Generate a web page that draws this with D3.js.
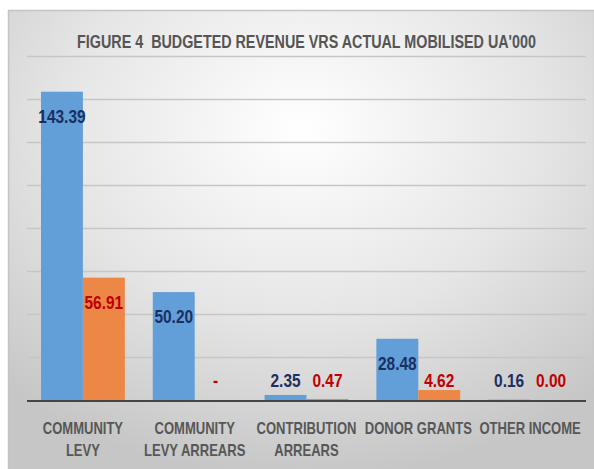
<!DOCTYPE html>
<html>
<head>
<meta charset="utf-8">
<script src="https://cdn.jsdelivr.net/npm/d3@7"></script>
<style>
  html, body { margin: 0; padding: 0; background: #ffffff; }
  svg { display: block; }
  text { font-family: "Liberation Sans", Arial, sans-serif; }
</style>
</head>
<body>
<svg id="chart" width="594" height="469"></svg>
<script>
// Revenue categories (two-line labels) and the two series, UA'000
const categories = ["COMMUNITY LEVY", "COMMUNITY LEVY ARREARS", "CONTRIBUTION ARREARS", "DONOR GRANTS", "OTHER INCOME"];
const categoryLines = [["COMMUNITY", "LEVY"], ["COMMUNITY", "LEVY ARREARS"], ["CONTRIBUTION", "ARREARS"], ["DONOR GRANTS"], ["OTHER INCOME"]];
const budgeted = [143.39, 50.20, 2.35, 28.48, 0.16];
const actual = [56.91, null, 0.47, 4.62, 0.00];
const yTicks = [20, 40, 60, 80, 100, 120, 140, 160];
const titleText = "FIGURE 4  BUDGETED REVENUE VRS ACTUAL MOBILISED UA'000";

const svg = d3.select("#chart");
const W = 594, H = 469;
const plot = { left: 27, right: 586, top: 56, bottom: 400 };

// condensed-looking text: a group placed at (x, y), squeezed horizontally
function narrowText(parent, x, y, sx) {
  return parent.append("g").attr("transform", `translate(${x},${y}) scale(${sx},1)`)
    .append("text").attr("x", 0).attr("y", 0).attr("text-anchor", "middle");
}

// chart area background with a soft radial shading
const defs = svg.append("defs");
const grad = defs.append("radialGradient")
  .attr("id", "bg").attr("cx", "50%").attr("cy", "25%").attr("r", "75%");
grad.append("stop").attr("offset", "0%").attr("stop-color", "#ffffff");
grad.append("stop").attr("offset", "55%").attr("stop-color", "#e5e5e5");
grad.append("stop").attr("offset", "100%").attr("stop-color", "#c6c6c6");

svg.append("rect").attr("x", 8.5).attr("y", 10.5).attr("width", W - 8).attr("height", H)
  .attr("fill", "url(#bg)").attr("stroke", "#c4c4c4").attr("stroke-width", 1.5);

const series = [
  { key: "budgeted", values: budgeted, fill: "#629fd9", text: "#1b2f63" },
  { key: "actual", values: actual, fill: "#ec8746", text: "#c00000" }
];

const x0 = d3.scaleBand().domain(categories).range([plot.left, plot.right]).padding(0);
const gap = x0.bandwidth() * 0.25;
const x1 = d3.scaleBand().domain(series.map(s => s.key)).range([gap / 2, x0.bandwidth() - gap / 2]).padding(0);
const y = d3.scaleLinear().domain([0, 160]).range([plot.bottom, plot.top]);

// horizontal gridlines
svg.append("g").selectAll("line").data(yTicks).join("line")
  .attr("x1", plot.left).attr("x2", plot.right)
  .attr("y1", d => Math.round(y(d)) + 0.5).attr("y2", d => Math.round(y(d)) + 0.5)
  .attr("stroke", "#c6c6c6").attr("stroke-width", 1.5);

// bars
const bars = svg.append("g");
series.forEach(s => {
  bars.selectAll(null).data(categories).join("rect")
    .attr("x", d => x0(d) + x1(s.key))
    .attr("width", x1.bandwidth())
    .attr("y", (d, i) => y(s.values[i] || 0))
    .attr("height", (d, i) => y(0) - y(s.values[i] || 0))
    .attr("fill", s.fill);
});

// category axis line
svg.append("line").attr("x1", plot.left).attr("x2", plot.right)
  .attr("y1", plot.bottom + 1).attr("y2", plot.bottom + 1)
  .attr("stroke", "#454545").attr("stroke-width", 2.2);

// data labels: just inside the bar end, lifted above the axis for short bars
const labels = svg.append("g");
series.forEach(s => {
  categories.forEach((c, i) => {
    const v = s.values[i];
    narrowText(labels,
        x0(c) + x1(s.key) + x1.bandwidth() / 2,
        Math.min(y(v || 0) + 31, 387), 0.86)
      .attr("font-size", 18).attr("font-weight", "bold")
      .attr("fill", s.text)
      .text(v == null ? "-" : d3.format(".2f")(v));
  });
});

// category labels
const cats = svg.append("g");
categories.forEach((c, i) => {
  categoryLines[i].forEach((line, j) => {
    narrowText(cats, x0(c) + x0.bandwidth() / 2, 434 + j * 22, 0.79)
      .attr("font-size", 16.5).attr("font-weight", "bold")
      .attr("fill", "#575757")
      .text(line);
  });
});

// title, squeezed to its set width
const title = narrowText(svg, (plot.left + plot.right) / 2, 48, 1)
  .attr("font-size", 18).attr("font-weight", "bold")
  .attr("fill", "#555555")
  .attr("xml:space", "preserve")
  .text(titleText);
const tw = title.node().getComputedTextLength();
d3.select(title.node().parentNode)
  .attr("transform", `translate(${(plot.left + plot.right) / 2},48) scale(${459 / tw},1)`);
</script>
</body>
</html>
